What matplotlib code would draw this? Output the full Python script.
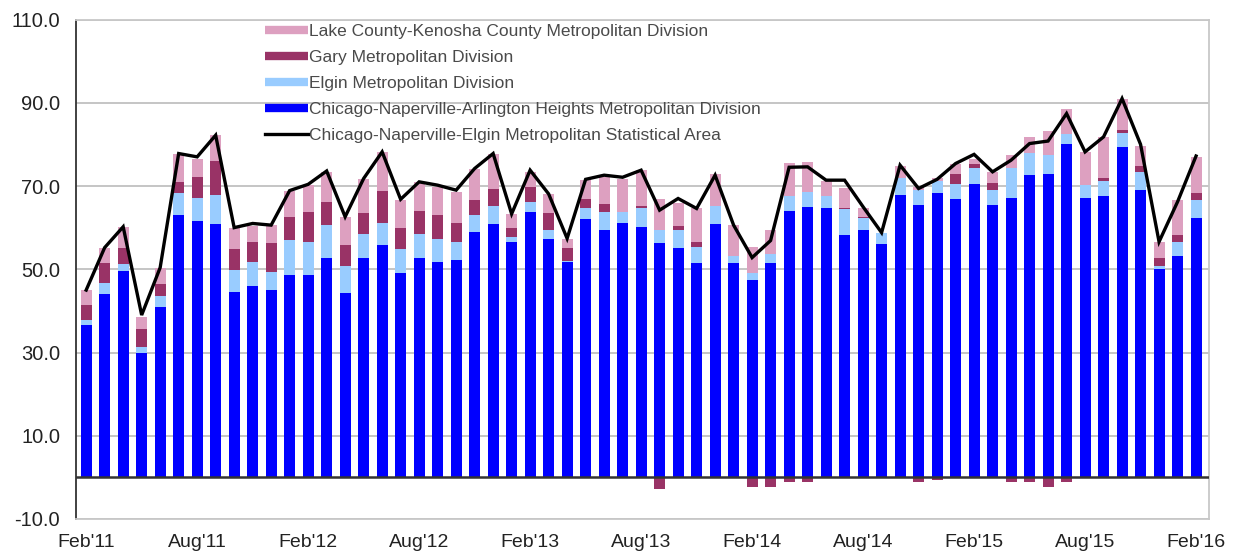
import numpy as np
import matplotlib
matplotlib.use("Agg")
import matplotlib.pyplot as plt
from matplotlib.lines import Line2D

plt.rcParams['font.family'] = ['Liberation Sans', 'DejaVu Sans']

# Monthly values, Feb 2011 - Feb 2016
months = ["Feb'11", "Mar'11", "Apr'11", "May'11", "Jun'11", "Jul'11", "Aug'11", "Sep'11", "Oct'11", "Nov'11", "Dec'11", "Jan'12",
          "Feb'12", "Mar'12", "Apr'12", "May'12", "Jun'12", "Jul'12", "Aug'12", "Sep'12", "Oct'12", "Nov'12", "Dec'12", "Jan'13",
          "Feb'13", "Mar'13", "Apr'13", "May'13", "Jun'13", "Jul'13", "Aug'13", "Sep'13", "Oct'13", "Nov'13", "Dec'13", "Jan'14",
          "Feb'14", "Mar'14", "Apr'14", "May'14", "Jun'14", "Jul'14", "Aug'14", "Sep'14", "Oct'14", "Nov'14", "Dec'14", "Jan'15",
          "Feb'15", "Mar'15", "Apr'15", "May'15", "Jun'15", "Jul'15", "Aug'15", "Sep'15", "Oct'15", "Nov'15", "Dec'15", "Jan'16",
          "Feb'16"]

chicago = [36.5, 44.1, 49.6, 29.8, 41.0, 63.0, 61.7, 60.8, 44.6, 45.9, 45.0, 48.6,
           48.6, 52.8, 44.2, 52.8, 55.8, 49.0, 52.8, 51.8, 52.2, 58.9, 60.8, 56.6,
           63.8, 57.2, 51.8, 62.1, 59.4, 61.2, 60.2, 56.2, 55.0, 51.4, 60.8, 51.4,
           47.3, 51.4, 64.0, 65.0, 64.6, 58.2, 59.4, 56.0, 67.8, 65.4, 68.2, 66.8,
           70.4, 65.4, 67.2, 72.6, 73.0, 80.2, 67.2, 67.6, 79.4, 69.0, 50.0, 53.2,
           62.2]

elgin = [1.3, 2.7, 1.7, 1.6, 2.6, 5.4, 5.3, 7.1, 5.3, 5.8, 4.4, 8.4,
         8.0, 7.8, 6.7, 5.6, 5.4, 5.9, 5.6, 5.4, 4.4, 4.1, 4.4, 1.1,
         2.4, 2.2, 0.3, 2.5, 4.4, 2.6, 4.4, 3.2, 4.4, 4.0, 4.4, 1.8,
         1.7, 2.2, 3.5, 3.6, 3.0, 6.2, 2.8, 2.8, 4.2, 3.6, 3.0, 3.8,
         4.0, 3.6, 7.2, 5.4, 4.4, 2.2, 3.0, 3.6, 3.4, 4.4, 0.8, 3.4,
         4.4]

gary = [3.6, 4.6, 3.7, 4.2, 2.8, 2.6, 5.1, 8.2, 5.0, 4.9, 6.8, 5.5,
        7.2, 5.6, 4.9, 5.0, 7.6, 4.9, 5.6, 5.8, 4.6, 3.6, 4.1, 2.1,
        3.6, 4.0, 2.9, 2.3, 1.9, 0.0, 0.6, -2.8, 1.0, 1.2, 0.0, 0.0,
        -2.4, -2.4, -1.0, -1.0, 0.0, 0.4, 0.4, 0.0, 0.0, -1.0, -0.6, 2.4,
        0.8, 1.8, -1.0, -1.0, -2.4, -1.0, 0.0, 0.8, 0.6, 1.4, 2.0, 1.6,
        1.8]

lake = [3.6, 3.6, 5.2, 3.0, 3.8, 6.8, 4.5, 6.1, 5.1, 3.8, 4.4, 6.4,
        6.4, 7.2, 6.7, 8.4, 9.4, 6.8, 7.0, 6.8, 7.4, 7.6, 8.5, 3.5,
        3.6, 4.7, 2.2, 4.5, 6.5, 8.0, 8.6, 7.5, 5.4, 8.0, 7.6, 7.4,
        6.4, 5.8, 8.1, 7.2, 3.6, 4.8, 2.2, 0.0, 2.8, 0.8, 0.8, 2.4,
        1.2, 2.6, 3.0, 3.8, 5.8, 6.2, 8.0, 9.8, 7.6, 4.8, 3.8, 8.4,
        8.6]

msa = [45.0, 55.2, 60.2, 39.0, 50.4, 77.8, 77.0, 82.2, 60.0, 61.0, 60.6, 68.9,
       70.4, 73.6, 62.6, 71.8, 78.2, 66.8, 71.0, 70.2, 69.0, 74.2, 77.8, 63.3,
       73.8, 68.1, 57.4, 71.6, 72.6, 72.1, 73.8, 64.2, 67.0, 64.6, 72.6, 60.6,
       52.8, 56.9, 74.5, 74.6, 71.4, 71.4, 65.0, 58.8, 75.0, 69.4, 71.6, 75.4,
       77.6, 73.4, 76.2, 80.2, 80.8, 87.4, 78.2, 81.8, 91.0, 80.0, 56.6, 66.2,
       77.2]

series_names = ["Chicago-Naperville-Arlington Heights Metropolitan Division",
                "Elgin Metropolitan Division",
                "Gary Metropolitan Division",
                "Lake County-Kenosha County Metropolitan Division"]
line_name = "Chicago-Naperville-Elgin Metropolitan Statistical Area"
colors = ["#0000FF", "#99CCFF", "#993366", "#DDA0C0"]

W, H = 1238, 554
fig = plt.figure(figsize=(W / 100, H / 100), dpi=100)
ax = fig.add_axes([76 / W, (H - 519) / H, (1209 - 76) / W, (519 - 19.5) / H])

x = np.arange(len(months))
pos_base = np.zeros(len(months))
neg_base = np.zeros(len(months))
for vals, col in zip([chicago, elgin, gary, lake], colors):
    v = np.asarray(vals, dtype=float)
    bottom = np.where(v >= 0, pos_base, neg_base)
    ax.bar(x, v, width=0.6, bottom=bottom, color=col, linewidth=0, zorder=2)
    pos_base = pos_base + np.where(v > 0, v, 0)
    neg_base = neg_base + np.where(v < 0, v, 0)

ax.plot(x, msa, color="black", lw=2.4, zorder=4, solid_joinstyle="miter")

ax.set_xlim(-0.55, len(months) - 1 + 0.7)
ax.set_ylim(-10, 110)
yt = [-10, 10, 30, 50, 70, 90, 110]
ax.set_yticks(yt)
ax.set_yticklabels([f"{t:.1f}" for t in yt])
ax.set_xticks(x[::6])
ax.set_xticklabels(months[::6])
ax.tick_params(axis="both", length=0, colors="#222222")
ax.tick_params(axis="y", pad=11.5, labelsize=14.5)
ax.tick_params(axis="x", pad=11, labelsize=14)

for t in yt:
    ax.axhline(t, color="#C0C0C0", lw=1.3, zorder=1)
ax.axhline(0, color="#333333", lw=1.8, zorder=3)

for side in ["top", "right", "bottom"]:
    ax.spines[side].set_color("#C8C8C8")
    ax.spines[side].set_linewidth(1.3)
ax.spines["left"].set_color("#333333")
ax.spines["left"].set_linewidth(1.3)

handles = [Line2D([], [], color=colors[3], lw=6, solid_capstyle="butt"),
           Line2D([], [], color=colors[2], lw=6, solid_capstyle="butt"),
           Line2D([], [], color=colors[1], lw=6, solid_capstyle="butt"),
           Line2D([], [], color=colors[0], lw=6, solid_capstyle="butt"),
           Line2D([], [], color="black", lw=2.4)]
labels = [series_names[3], series_names[2], series_names[1], series_names[0], line_name]
leg = fig.legend(handles, labels, loc="upper left", bbox_to_anchor=(265 / W, 1 - 24 / H),
                 frameon=False, fontsize=12.5, handlelength=2.45, handletextpad=0.1,
                 labelspacing=0.62, borderpad=0, borderaxespad=0)
for t in leg.get_texts():
    t.set_color("#4A4A4A")

fig.savefig("out.png", dpi=100)
